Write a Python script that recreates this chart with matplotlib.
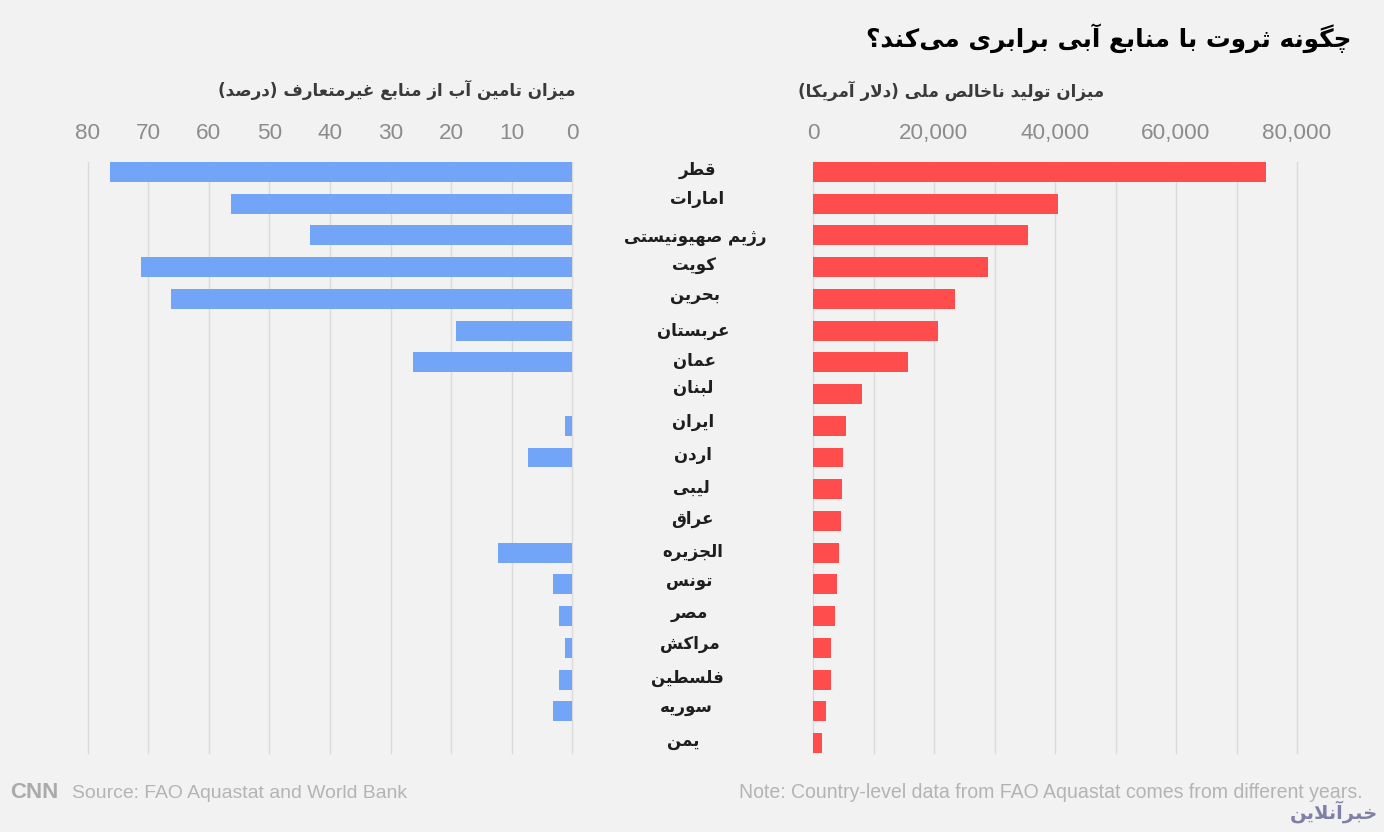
import matplotlib
matplotlib.use("Agg")
import matplotlib.pyplot as plt

# ---------- data ----------
countries = ["قطر", "امارات", "رژیم صهیونیستی", "کویت", "بحرین", "عربستان", "عمان", "لبنان",
             "ایران", "اردن", "لیبی", "عراق", "الجزیره", "تونس", "مصر", "مراکش", "فلسطین", "سوریه", "یمن"]
unconventional_pct = [76.3, 56.3, 43.3, 71.3, 66.3, 19.2, 26.3, 0, 1.2, 7.2, 0, 0, 12.2, 3.2, 2.2, 1.2, 2.2, 3.2, 0]
gdp_usd = [74800, 40500, 35500, 29000, 23500, 20600, 15700, 8100, 5500, 5000, 4800, 4700,
           4300, 4000, 3700, 3000, 3000, 2200, 1500]
left_ticks = [0, 10, 20, 30, 40, 50, 60, 70, 80]
right_ticks = [0, 20000, 40000, 60000, 80000]
right_grid = [0, 10000, 20000, 30000, 40000, 50000, 60000, 70000, 80000]
title = "چگونه ثروت با منابع آبی برابری می‌کند؟"
left_title = "میزان تامین آب از منابع غیرمتعارف (درصد)"
right_title = "میزان تولید ناخالص ملی (دلار آمریکا)"
source = "Source: FAO Aquastat and World Bank"
note = "Note: Country-level data from FAO Aquastat comes from different years."
watermark = "خبرآنلاین"

# label drift of the original, in pixels: vertical from the row centre, and horizontal centre
label_nudge = [-2, -5, 1.5, -1, -4, 0, -1, -6, -4, -2, -1, -2, -1, -3, -3, -4, -2, -4, -2]
label_center = [697, 697, 695, 694, 695, 693, 694.5, 693, 693.5, 693, 691, 692, 692.5, 689.5, 689.5, 689.5, 687, 686, 683]

# ---------- Persian shaping (matplotlib has no bidi/joining of its own) ----------
F = {}
def _four(ch, start):
    F[ch] = (start, start + 1, start + 2, start + 3)
def _two(ch, start):
    F[ch] = (start, start + 1, None, None)
for c, s in [("ب", 0xFE8F), ("پ", 0xFB56), ("ت", 0xFE95), ("ث", 0xFE99), ("ج", 0xFE9D), ("چ", 0xFB7A),
             ("ح", 0xFEA1), ("خ", 0xFEA5), ("س", 0xFEB1), ("ش", 0xFEB5), ("ص", 0xFEB9), ("ض", 0xFEBD),
             ("ط", 0xFEC1), ("ظ", 0xFEC5), ("ع", 0xFEC9), ("غ", 0xFECD), ("ف", 0xFED1), ("ق", 0xFED5),
             ("ک", 0xFB8E), ("گ", 0xFB92), ("ل", 0xFEDD), ("م", 0xFEE1), ("ن", 0xFEE5), ("ه", 0xFEE9),
             ("ی", 0xFBFC)]:
    _four(c, s)
for c, s in [("ا", 0xFE8D), ("آ", 0xFE81), ("د", 0xFEA9), ("ذ", 0xFEAB), ("ر", 0xFEAD), ("ز", 0xFEAF),
             ("ژ", 0xFB8A), ("و", 0xFEED)]:
    _two(c, s)

def shape(text):
    text = text.replace("لا", "\uE000")
    out = []
    n = len(text)
    for i, ch in enumerate(text):
        prev_ch = text[i - 1] if i > 0 else ""
        next_ch = text[i + 1] if i < n - 1 else ""
        joins_prev = prev_ch in F and F[prev_ch][2] is not None
        if ch == "\uE000":
            out.append(chr(0xFEFC) if joins_prev else chr(0xFEFB))
        elif ch == "\u200c":
            continue
        elif ch in F:
            iso, fin, ini, med = F[ch]
            joins_next = ini is not None and (next_ch in F or next_ch == "\uE000")
            if joins_prev and joins_next:
                out.append(chr(med))
            elif joins_prev:
                out.append(chr(fin))
            elif joins_next:
                out.append(chr(ini))
            else:
                out.append(chr(iso))
        else:
            out.append({"(": ")", ")": "("}.get(ch, ch))
    return "".join(reversed(out))

# ---------- layout ----------
W, H = 1384, 832
BG = "#F2F2F2"
fig = plt.figure(figsize=(W / 100, H / 100), dpi=100, facecolor=BG)

def axes_px(x0, x1, y_top, y_bot):
    return fig.add_axes([x0 / W, 1 - y_bot / H, (x1 - x0) / W, (y_bot - y_top) / H], facecolor="none")

def fx(px):
    return px / W

def fy(px):
    return 1 - px / H

BAR_H = 0.63
rows = list(range(len(countries)))
GRID = "#DADADA"
TICK = "#8C8C8C"
TICK_FONT = "Liberation Sans"

def style(ax):
    for s in ax.spines.values():
        s.set_visible(False)
    ax.set_ylim(len(rows) - 1 + BAR_H / 2, -BAR_H / 2)
    ax.set_yticks([])
    ax.xaxis.tick_top()
    ax.tick_params(axis="x", length=0, pad=13, labelcolor=TICK, labelsize=16.2)
    ax.grid(axis="x", color=GRID, linewidth=1)
    for g in ax.get_xgridlines():
        g.set_clip_on(False)
    ax.set_axisbelow(True)

axL = axes_px(88, 572, 162, 753)
axL.barh(rows, unconventional_pct, height=BAR_H, color="#72A5F7")
axL.set_xlim(80, 0)
axL.set_xticks(left_ticks)
axL.set_xticklabels([str(t) for t in left_ticks], family=TICK_FONT)
style(axL)

axR = axes_px(813, 1297, 162, 753)
axR.barh(rows, gdp_usd, height=BAR_H, color="#FF4C4C")
axR.set_xlim(0, 80000)
axR.set_xticks(right_grid)
axR.set_xticklabels([f"{t:,}" if t in right_ticks else "" for t in right_grid], family=TICK_FONT)
style(axR)

# country labels
row_px = (743 - 172) / 18
for i, name in enumerate(countries):
    fig.text(fx(label_center[i]), fy(172 + i * row_px + label_nudge[i]), shape(name), ha="center", va="center",
             family="DejaVu Sans", weight="bold", fontsize=12, color="#1E1E1E")

# titles
fig.text(fx(1351), fy(38), shape(title), ha="right", va="center", family="DejaVu Sans",
         weight="bold", fontsize=17.8, color="#000000")
fig.text(fx(575), fy(90), shape(left_title), ha="right", va="center", family="DejaVu Sans",
         weight="bold", fontsize=12.1, color="#3A3A3A")
fig.text(fx(1104), fy(91), shape(right_title), ha="right", va="center", family="DejaVu Sans",
         weight="bold", fontsize=12.1, color="#3A3A3A")

# footer
FOOT = "#B4B4B4"
fig.text(fx(10), fy(792), "CNN", ha="left", va="center", family="Liberation Sans", weight="bold",
         fontsize=16, color="#ABABAB")
fig.text(fx(72), fy(793.5), source, ha="left", va="center", family="Liberation Sans", fontsize=13.97, color=FOOT)
fig.text(fx(1363), fy(792), note, ha="right", va="center", family="Liberation Sans", fontsize=14.09, color=FOOT)
fig.text(fx(1378), fy(812), shape(watermark), ha="right", va="center", family="DejaVu Sans", weight="bold",
         fontsize=14, color="#7F7FA8")

fig.savefig("out.png", dpi=100, facecolor=BG)
